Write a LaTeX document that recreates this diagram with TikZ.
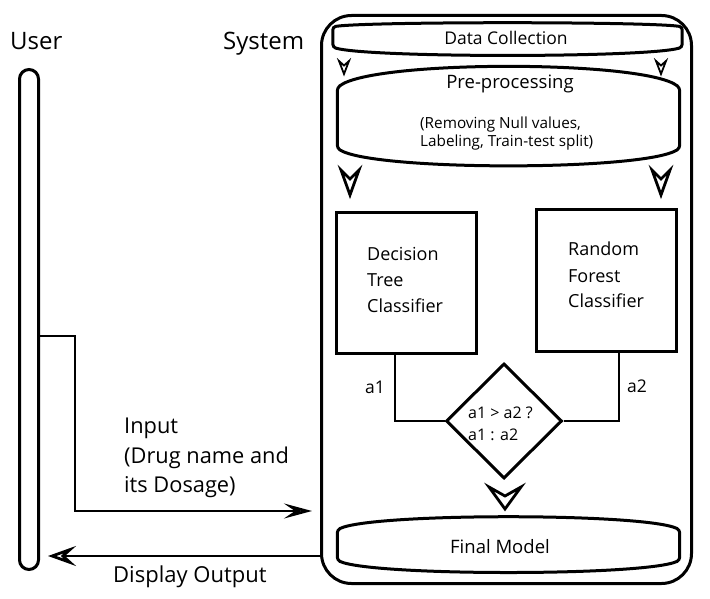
\documentclass[tikz,border=0pt]{standalone}
\usepackage{fontspec}
\setmainfont{Open Sans}
\usetikzlibrary{arrows.meta,calc,shapes.geometric}
\newcommand\lensdraw[3]{\draw[outl, rounded corners=3pt] (#1.north west) .. controls ($(#1.north west)+(35,-#2)$) and ($(#1.north east)+(-35,-#2)$) .. (#1.north east) -- (#1.south east) .. controls ($(#1.south east)+(-35,#3)$) and ($(#1.south west)+(35,#3)$) .. (#1.south west) -- cycle;}
\newcommand\chevron[5]{\draw[line width=#5, line join=miter] ($(#1)+(-#2,-#3)$) -- (#1) -- ($(#1)+(#2,-#3)$) -- ($(#1)+(0,-#3+#4)$) -- cycle;}
\begin{document}
\begin{tikzpicture}[x=1pt,y=-1pt,
  outl/.style={line width=3pt},
  conn/.style={line width=2.8pt},
  boxn/.style={draw, outl, minimum width=140pt, minimum height=140pt, inner sep=0pt},
  lensn/.style={inner sep=0pt},
  txt/.style={inner sep=0pt, font=\fontsize{#1}{#1}\selectfont},
  lt/.style={txt=#1, anchor=base west},
  ct/.style={txt=#1, anchor=base},
  intip/.style={-{Stealth[open,length=28pt,width=15pt,inset=11pt]}},
  outtip/.style={-{Stealth[open,length=28pt,width=20pt,inset=11pt]}}
]
\useasboundingbox (0,0) rectangle (710,599);

% containers
\node[draw, outl, rounded corners=30pt, minimum width=370pt, minimum height=568pt, inner sep=0pt] (sys) at (506.5,299.5) {};
\node[draw, outl, rounded corners=9.5pt, minimum width=19pt, minimum height=500pt, inner sep=0pt] (user) at (29,319.5) {};
\node[lt=24] (usertxt) at (10,50) {User};
\node[lt=24] (systxt) at (223,50) {System};

% data collection
\node[lensn, minimum width=349pt, minimum height=20pt] (dc) at (507.5,37) {};
\lensdraw{dc}{5.3}{10.7}
\node[ct=17.5] (dctxt) at (506,45) {Data Collection};

% pre-processing
\node[lensn, minimum width=342pt, minimum height=60pt] (pp) at (508.5,118) {};
\lensdraw{pp}{28}{23}
\node[ct=18.5] (pptxt) at (510,89) {Pre-processing};
\node[lt=15.3] (pp1) at (420,129) {(Removing Null values,};
\node[lt=15.3] (pp2) at (420,147) {Labeling, Train-test split)};

% small arrows
\coordinate (s1) at (344,74);
\coordinate (s2) at (661,74);
\chevron{s1}{5}{13}{4.5}{1.8pt}
\chevron{s2}{5}{13}{4.5}{1.8pt}
% big arrows
\coordinate (b1) at (350,195);
\coordinate (b2) at (661,195);
\chevron{b1}{9}{25}{9}{2.8pt}
\chevron{b2}{9}{25}{9}{2.8pt}

% classifiers
\node[boxn, minimum width=140pt, minimum height=140pt] (dt) at (406,283) {};
\node[lt=18] (dt1) at (367,260) {Decision};
\node[lt=18] (dt2) at (367,286) {Tree};
\node[lt=18] (dt3) at (367,312) {Classifier};
\node[boxn, minimum width=140pt, minimum height=141pt] (rf) at (606,280.5) {};
\node[lt=18] (rf1) at (568,255) {Random};
\node[lt=18] (rf2) at (568,282) {Forest};
\node[lt=18] (rf3) at (568,307) {Classifier};

% decision diamond
\node[draw, outl, diamond, aspect=1, minimum width=116pt, minimum height=115pt, inner sep=0pt] (dia) at (504,421) {};
\node[lt=16] (d1) at (468,418) {a1 > a2 ?};
\node[lt=16] (d2) at (468,440) {a1 : a2};

\draw[conn] ([xshift=-11pt]dt.south) -- ([xshift=-11pt]dt.south |- dia.west) -- (dia.west);
\draw[conn] ([xshift=13pt]rf.south) -- ([xshift=13pt]rf.south |- dia.east) -- (dia.east);
\node[lt=17.5] (a1) at (365,393) {a1};
\node[lt=17.5] (a2) at (627,392) {a2};

\coordinate (dtip) at (505,509);
\chevron{dtip}{16}{22}{9}{2.8pt}

% final model
\node[lensn, minimum width=342pt, minimum height=30pt] (fm) at (508.5,545) {};
\lensdraw{fm}{17}{16}
\node[ct=18.5] (fmtxt) at (500,553) {Final Model};

% input / output
\coordinate (inbend) at (75,336);
\coordinate (inend) at (312,511);
\draw[conn, intip] (inbend -| user.east) -- (inbend) -- (inbend |- inend) -- (inend);
\node[lt=21.8] (in1) at (124,433) {Input};
\node[lt=21.8] (in2) at (124,463) {(Drug name and};
\node[lt=21.8] (in3) at (124,492) {its Dosage)};

\coordinate (outend) at (48,556);
\draw[conn, outtip] (sys.west |- outend) -- (outend);
\node[lt=22] (outtxt) at (113,582) {Display Output};
\end{tikzpicture}
\end{document}
